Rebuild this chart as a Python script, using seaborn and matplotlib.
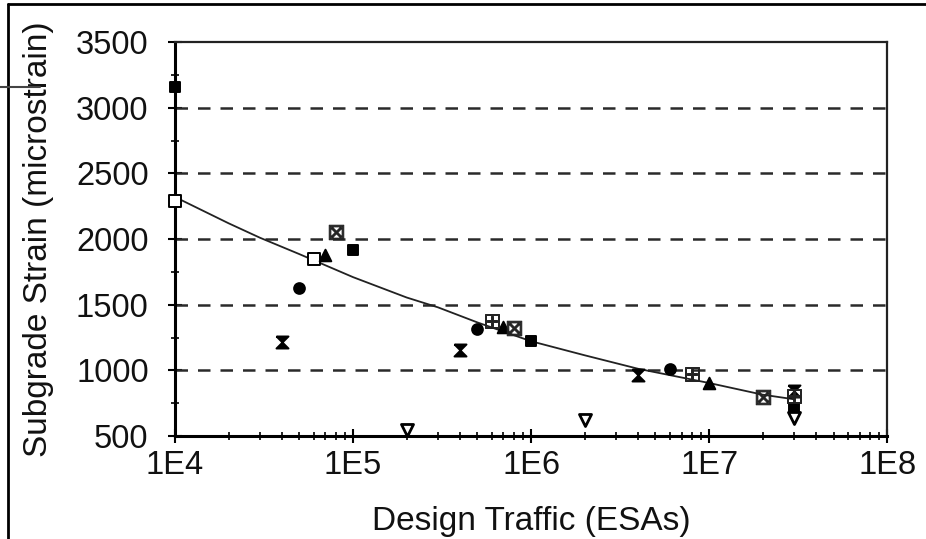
import numpy as np
import pandas as pd
import matplotlib
matplotlib.use("Agg")
import matplotlib.pyplot as plt
import matplotlib.ticker as mticker
from matplotlib.lines import Line2D
import seaborn as sns

# punti misurati (ESAs, microstrain), una lista per simbolo
sq_fill_x = [1e4, 1e5, 1e6, 3e7]
sq_fill_y = [3160, 1917, 1224, 713]
sq_open_x = [1e4, 6e4]
sq_open_y = [2290, 1848]
tri_up_x = [7e4, 7e5, 1e7]
tri_up_y = [1878, 1330, 904]
box_x_x = [8e4, 8e5, 2e7]
box_x_y = [2054, 1322, 797]
circ_x = [5e4, 5e5, 6e6]
circ_y = [1627, 1315, 1010]
hour_x = [4e4, 4e5, 4e6, 3e7]
hour_y = [1216, 1155, 965, 843]
box_p_x = [6e5, 8e6, 3e7]
box_p_y = [1376, 972, 805]
tri_dn_x = [2e5, 2e6, 3e7]
tri_dn_y = [545, 622, 637]

# curva di progetto
curve_x = [1e4, 2e4, 3e4, 5e4, 1e5, 2e5, 3e5, 5e5, 1e6, 2e6, 4e6, 1e7, 2e7, 3e7]
curve_y = [2320, 2120, 2010, 1885, 1710, 1555, 1480, 1365, 1222, 1115, 1012, 904, 815, 780]

y_ticks = [500, 1000, 1500, 2000, 2500, 3000, 3500]
x_ticks = [1e4, 1e5, 1e6, 1e7, 1e8]
x_tick_labels = ["1E4", "1E5", "1E6", "1E7", "1E8"]

sns.set_theme(style="white")
plt.rcParams["font.family"] = ["Liberation Sans", "DejaVu Sans"]

fig = plt.figure(figsize=(9.26, 5.39), dpi=100)
ax = fig.add_axes([0.189, 0.191, 0.769, 0.731])

# griglia tratteggiata orizzontale
for g in y_ticks[1:-1]:
    ax.axhline(g, color="#2a2a2a", lw=1.8, ls=(0, (5, 4)), zorder=1)

sns.lineplot(x=curve_x, y=curve_y, ax=ax, color="#222222", lw=1.3, zorder=2)

hourglass = [(-1, 1), (1, 1), (-1, -1), (1, -1), (-1, 1)]
# (x, y, marker, riempimento, dimensione, bordo, spessore bordo)
series = [
    (sq_fill_x, sq_fill_y, "s", "black", 60, "black", 1.4),
    (sq_open_x, sq_open_y, "s", "white", 80, "black", 1.4),
    (tri_up_x, tri_up_y, "^", "black", 70, "black", 1.4),
    (box_x_x, box_x_y, r"$\boxtimes$", "#222222", 110, "#222222", 0.7),
    (circ_x, circ_y, "o", "black", 60, "black", 1.4),
    (hour_x, hour_y, hourglass, "black", 75, "black", 1.4),
    (box_p_x, box_p_y, r"$\boxplus$", "#222222", 110, "#222222", 0.7),
    (tri_dn_x, tri_dn_y, "v", "white", 75, "black", 2.0),
]
for xs, ys, mk, fc, sz, ec, lw in series:
    sns.scatterplot(x=xs, y=ys, ax=ax, marker=mk, s=sz, color=fc,
                    edgecolor=ec, linewidth=lw, zorder=3, legend=False,
                    clip_on=False)

ax.set_xscale("log")
ax.set_xlim(1e4, 1e8)
ax.set_ylim(500, 3500)
ax.set_xticks(x_ticks)
ax.set_xticklabels(x_tick_labels)
ax.xaxis.set_minor_locator(mticker.LogLocator(base=10, subs=np.arange(2, 10)))
ax.xaxis.set_minor_formatter(mticker.NullFormatter())
ax.set_yticks(y_ticks)
ax.yaxis.set_minor_locator(mticker.MultipleLocator(250))

ax.tick_params(axis="both", which="major", direction="inout", length=10, width=1.5,
               color="black", labelsize=23.5, labelcolor="#111111")
ax.tick_params(axis="both", which="minor", direction="inout", length=6, width=1.2,
               color="black")
ax.tick_params(axis="y", which="major", pad=14, left=True)
ax.tick_params(axis="y", which="minor", left=True)
ax.tick_params(axis="x", which="both", bottom=True)
ax.tick_params(axis="x", which="major", pad=5)

for side in ["left", "bottom"]:
    ax.spines[side].set_linewidth(2.2)
    ax.spines[side].set_color("black")
for side in ["top", "right"]:
    ax.spines[side].set_linewidth(1.6)
    ax.spines[side].set_color("#222222")

ax.set_xlabel("Design Traffic (ESAs)", fontsize=24, color="#111111", labelpad=18)
ax.set_ylabel("Subgrade Strain (microstrain)", fontsize=24, color="#111111", labelpad=16)
ax.grid(False)

# cornice della figura scansionata
fig.add_artist(Line2D([8 / 926, 8 / 926], [0, 1 - 4 / 539], transform=fig.transFigure,
                      color="black", lw=2))
fig.add_artist(Line2D([8 / 926, 1], [1 - 4 / 539, 1 - 4 / 539], transform=fig.transFigure,
                      color="black", lw=2))
fig.add_artist(Line2D([0, 40 / 926], [1 - 87 / 539, 1 - 87 / 539], transform=fig.transFigure,
                      color="#444444", lw=1.5))

fig.savefig("out.png", dpi=100)
